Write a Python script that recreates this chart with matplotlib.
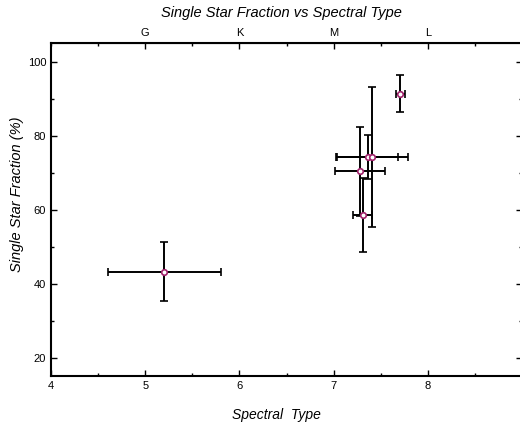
import matplotlib
matplotlib.use("Agg")
import matplotlib.pyplot as plt
from matplotlib.ticker import MultipleLocator, FixedLocator

plt.rcParams['font.family'] = ['Liberation Sans', 'DejaVu Sans']

# valori
tipo = [5.20, 7.71, 7.36, 7.41, 7.28, 7.31]
frazione = [43.2, 91.3, 74.2, 74.2, 70.3, 58.4]
err_x = [0.60, 0.05, 0.32, 0.38, 0.27, 0.10]
err_y = [8.0, 5.0, 6.0, 19.0, 12.0, 10.0]

pos_classi = [5, 6, 7, 8]
nomi_classi = ["G", "K", "M", "L"]

fig = plt.figure(figsize=(5.2, 4.23), dpi=100)
ax = fig.add_axes([51/520, 1 - 376/423, 471/520, 333/423])

ax.errorbar(tipo, frazione, xerr=err_x, yerr=err_y, fmt='o', color='black',
            ecolor='black', elinewidth=1.4, capsize=3, capthick=1.4,
            markersize=4, mfc='white', mec='#a0206a', mew=1.2, zorder=3)

ax.set_xlim(4, 9)
ax.set_ylim(15, 105)
ax.xaxis.set_major_locator(FixedLocator([4, 5, 6, 7, 8]))
ax.xaxis.set_minor_locator(MultipleLocator(0.5))
ax.set_yticks([20, 40, 60, 80, 100])
ax.yaxis.set_minor_locator(MultipleLocator(10))

for s in ax.spines.values():
    s.set_linewidth(1.5)

ax.tick_params(which='both', direction='in', right=True, top=False,
               labelsize=8, width=1)
ax.tick_params(which='major', length=4)
ax.tick_params(which='minor', length=2)

sec = ax.secondary_xaxis('top')
sec.set_xticks(pos_classi)
sec.set_xticklabels(nomi_classi)
sec.xaxis.set_minor_locator(MultipleLocator(0.5))
sec.tick_params(which='both', direction='in', labelsize=8, width=1)
sec.tick_params(which='major', length=4)
sec.tick_params(which='minor', length=2)

ax.set_xlabel("Spectral  Type", fontsize=10, style='italic')
ax.xaxis.set_label_coords(0.478, -0.096)
ax.set_ylabel("Single Star Fraction (%)", fontsize=10.5, style='italic')
ax.yaxis.set_label_coords(-0.058, 0.545)
fig.text(0.542, 0.969, "Single Star Fraction vs Spectral Type", ha='center',
         va='center', fontsize=10.5, style='italic')

fig.savefig("out.png", dpi=100)
